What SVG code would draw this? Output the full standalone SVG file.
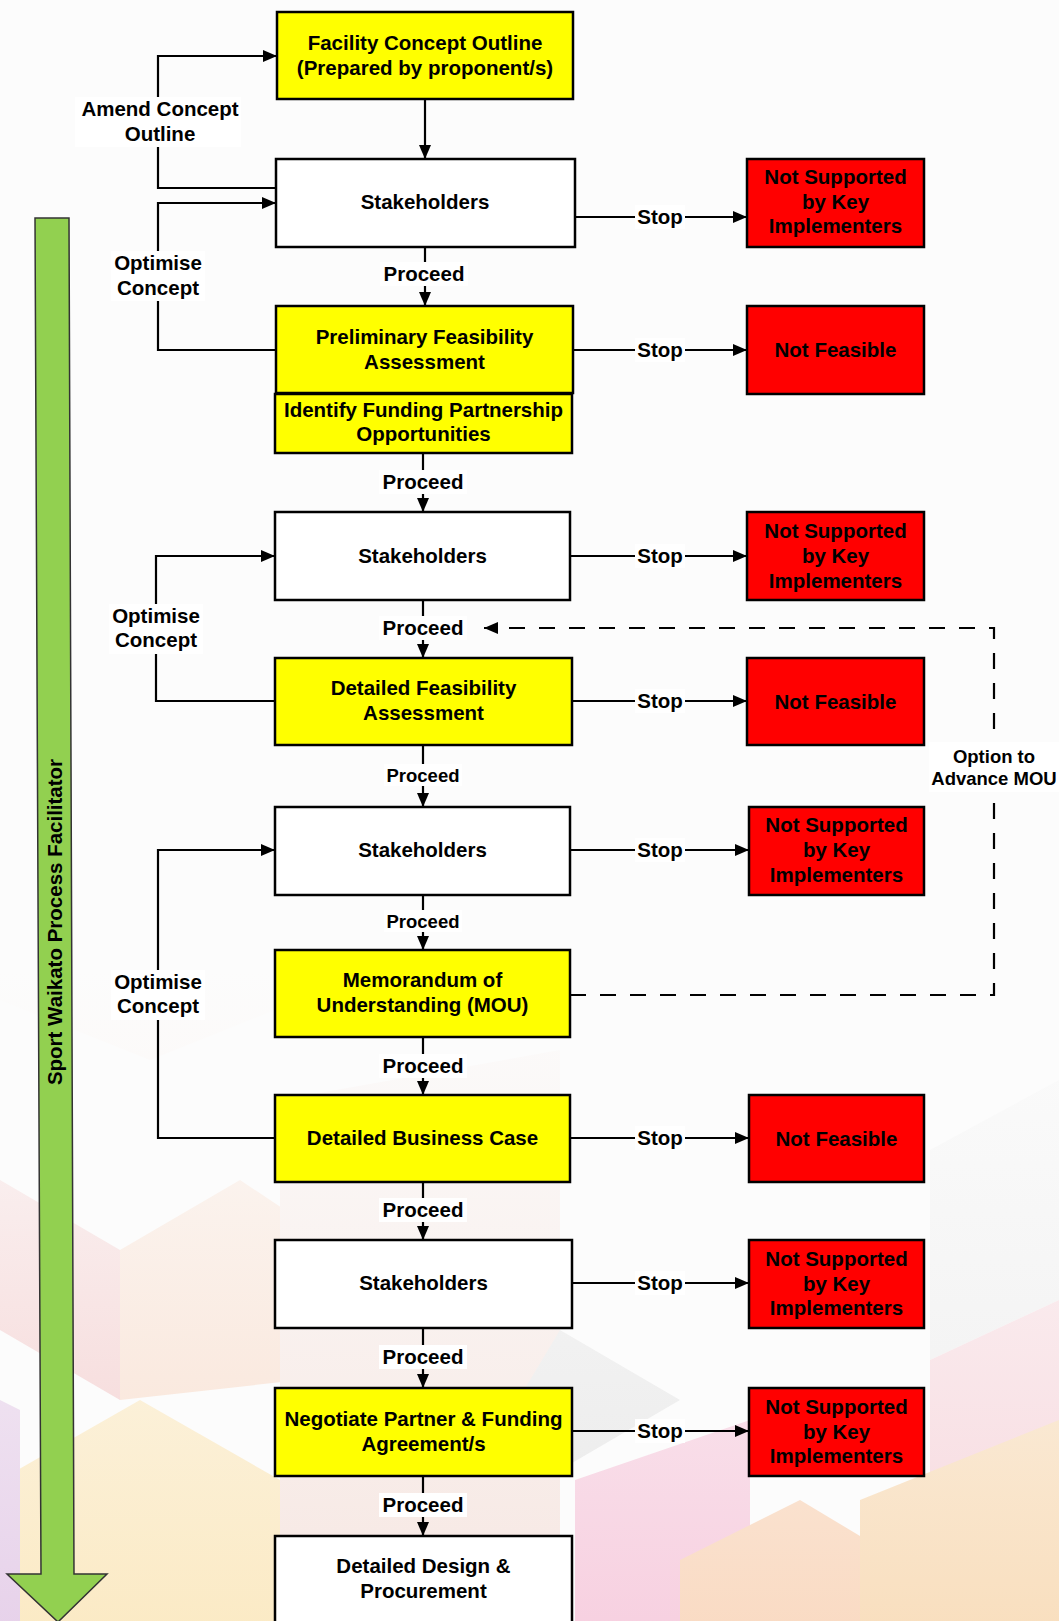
<svg xmlns="http://www.w3.org/2000/svg" width="1059" height="1621" viewBox="0 0 1059 1621">
<defs>
<style>
.box{stroke:#000;stroke-width:2.5}
.y{fill:#FFFF00}.w{fill:#FFFFFF}.r{fill:#FF0000}
.t{font-family:"Liberation Sans",Arial,sans-serif;font-weight:bold;font-size:20.5px;text-anchor:middle;fill:#000}
.s{font-size:18.5px}
.ln{stroke:#000;stroke-width:2.2;fill:none}
.lbg{fill:#FFFFFF}
</style>
<marker id="arr" viewBox="0 0 14 12" refX="14" refY="6" markerWidth="14" markerHeight="12" markerUnits="userSpaceOnUse" orient="auto">
<path d="M0,0 L14,6 L0,12 z" fill="#000" stroke="none"/>
</marker>
<linearGradient id="fade" x1="0" y1="0" x2="0" y2="1">
<stop offset="0" stop-color="#fcfcfc" stop-opacity="1"/>
<stop offset="0.6" stop-color="#fcfcfc" stop-opacity="1"/>
<stop offset="0.8" stop-color="#fcfcfc" stop-opacity="0.6"/>
<stop offset="1" stop-color="#fcfcfc" stop-opacity="0.2"/>
</linearGradient>
</defs>

<g id="background">
<rect x="0" y="0" width="1059" height="1621" fill="#fcfcfc"/>
<polygon points="0,1180 120,1250 120,1400 0,1330" fill="#f2c4c4"/>
<polygon points="120,1250 240,1180 300,1220 300,1380 120,1400" fill="#f8d8c4"/>
<polygon points="0,1480 140,1400 280,1480 280,1621 0,1621" fill="#fbe6b8"/>
<polygon points="0,1400 20,1410 20,1621 0,1621" fill="#e2c8e6"/>
<polygon points="280,1100 560,1050 560,1621 280,1621" fill="#f5e2dc"/>
<polygon points="560,1330 680,1400 560,1470 500,1430" fill="#e4e4e4"/>
<polygon points="575,1480 750,1420 750,1621 575,1621" fill="#f6c6da"/>
<polygon points="680,1560 800,1500 900,1560 900,1621 680,1621" fill="#f9d3b6"/>
<polygon points="930,1150 1059,1080 1059,1300 930,1360" fill="#ebebeb"/>
<polygon points="930,1360 1059,1300 1059,1500 930,1560" fill="#f6cfd6"/>
<polygon points="860,1500 1059,1420 1059,1621 860,1621" fill="#f8d8b0"/>
<polygon points="0,700 150,640 300,700 300,1000 150,1060 0,1000" fill="#fbe9e0"/>
<rect x="0" y="0" width="1059" height="1621" fill="url(#fade)"/>
</g>

<g id="facilitator-arrow">
<polygon points="35,218 69,218 74,1574 107,1574 58,1622 7,1574 41,1574" fill="#92D050" stroke="#333" stroke-width="1.5"/>
<text class="t" transform="translate(55,922) rotate(-90)" x="0" y="7">Sport Waikato Process Facilitator</text>
</g>

<g id="connectors">
<path class="ln" d="M425,99 V159" marker-end="url(#arr)"/>
<path class="ln" d="M425,247 V306" marker-end="url(#arr)"/>
<path class="ln" d="M423,453 V512" marker-end="url(#arr)"/>
<path class="ln" d="M423,600 V658" marker-end="url(#arr)"/>
<path class="ln" d="M423,745 V807" marker-end="url(#arr)"/>
<path class="ln" d="M423,895 V950" marker-end="url(#arr)"/>
<path class="ln" d="M423,1037 V1095" marker-end="url(#arr)"/>
<path class="ln" d="M423,1182 V1240" marker-end="url(#arr)"/>
<path class="ln" d="M423,1328 V1388" marker-end="url(#arr)"/>
<path class="ln" d="M423,1476 V1536" marker-end="url(#arr)"/>

<path class="ln" d="M575,217 H747" marker-end="url(#arr)"/>
<path class="ln" d="M573,350 H747" marker-end="url(#arr)"/>
<path class="ln" d="M570,556 H747" marker-end="url(#arr)"/>
<path class="ln" d="M572,701 H747" marker-end="url(#arr)"/>
<path class="ln" d="M570,850 H749" marker-end="url(#arr)"/>
<path class="ln" d="M570,1138 H749" marker-end="url(#arr)"/>
<path class="ln" d="M572,1283 H749" marker-end="url(#arr)"/>
<path class="ln" d="M572,1431 H749" marker-end="url(#arr)"/>

<path class="ln" d="M278,188 H158 V56 H277" marker-end="url(#arr)"/>
<path class="ln" d="M276,350 H158 V203 H276" marker-end="url(#arr)"/>
<path class="ln" d="M275,701 H156 V556 H275" marker-end="url(#arr)"/>
<path class="ln" d="M275,1138 H158 V850 H275" marker-end="url(#arr)"/>

<path class="ln" d="M570,995 H994 V628 H484" stroke-width="2.5" stroke-dasharray="16,14" marker-end="url(#arr)"/>

<rect class="lbg" x="380" y="262" width="88" height="24"/><text class="t" x="424" y="281">Proceed</text>
<rect class="lbg" x="379" y="470" width="88" height="24"/><text class="t" x="423" y="489">Proceed</text>
<rect class="lbg" x="379" y="616" width="88" height="24"/><text class="t" x="423" y="635">Proceed</text>
<rect class="lbg" x="384" y="764" width="78" height="22"/><text class="t s" x="423" y="781.5">Proceed</text>
<rect class="lbg" x="384" y="910" width="78" height="22"/><text class="t s" x="423" y="927.5">Proceed</text>
<rect class="lbg" x="379" y="1054" width="88" height="24"/><text class="t" x="423" y="1073">Proceed</text>
<rect class="lbg" x="379" y="1198" width="88" height="24"/><text class="t" x="423" y="1217">Proceed</text>
<rect class="lbg" x="379" y="1345" width="88" height="24"/><text class="t" x="423" y="1364">Proceed</text>
<rect class="lbg" x="379" y="1493" width="88" height="24"/><text class="t" x="423" y="1512">Proceed</text>

<rect class="lbg" x="635" y="205" width="50" height="24"/><text class="t" x="660" y="224">Stop</text>
<rect class="lbg" x="635" y="338" width="50" height="24"/><text class="t" x="660" y="357">Stop</text>
<rect class="lbg" x="635" y="544" width="50" height="24"/><text class="t" x="660" y="563">Stop</text>
<rect class="lbg" x="635" y="689" width="50" height="24"/><text class="t" x="660" y="708">Stop</text>
<rect class="lbg" x="635" y="838" width="50" height="24"/><text class="t" x="660" y="857">Stop</text>
<rect class="lbg" x="635" y="1126" width="50" height="24"/><text class="t" x="660" y="1145">Stop</text>
<rect class="lbg" x="635" y="1271" width="50" height="24"/><text class="t" x="660" y="1290">Stop</text>
<rect class="lbg" x="635" y="1419" width="50" height="24"/><text class="t" x="660" y="1438">Stop</text>

<rect class="lbg" x="75" y="97" width="166" height="50"/>
<text class="t" x="160" y="116">Amend Concept</text><text class="t" x="160" y="141">Outline</text>
<rect class="lbg" x="111" y="251" width="94" height="50"/>
<text class="t" x="158" y="270">Optimise</text><text class="t" x="158" y="294.5">Concept</text>
<rect class="lbg" x="109" y="604" width="94" height="50"/>
<text class="t" x="156" y="623">Optimise</text><text class="t" x="156" y="647">Concept</text>
<rect class="lbg" x="111" y="970" width="94" height="50"/>
<text class="t" x="158" y="989">Optimise</text><text class="t" x="158" y="1013">Concept</text>

<rect class="lbg" x="929" y="742" width="130" height="50"/>
<text class="t s" x="994" y="762.5">Option to</text><text class="t s" x="994" y="784.5">Advance MOU</text>
</g>

<g id="facility-concept">
<rect class="box y" x="277" y="12" width="296" height="87"/>
<text class="t" x="425" y="50">Facility Concept Outline</text>
<text class="t" x="425" y="75">(Prepared by proponent/s)</text>
</g>
<g id="stakeholders-1">
<rect class="box w" x="276" y="159" width="299" height="88"/>
<text class="t" x="425" y="209">Stakeholders</text>
</g>
<g id="not-supported-1">
<rect class="box r" x="747" y="159" width="177" height="88"/>
<text class="t" x="835.5" y="184">Not Supported</text><text class="t" x="835.5" y="208.5">by Key</text><text class="t" x="835.5" y="233">Implementers</text>
</g>
<g id="preliminary-feasibility">
<rect class="box y" x="276" y="306" width="297" height="87"/>
<text class="t" x="424.5" y="344">Preliminary Feasibility</text><text class="t" x="424.5" y="369">Assessment</text>
</g>
<g id="identify-funding">
<rect class="box y" x="275" y="394" width="297" height="59"/>
<text class="t" x="423.5" y="416.5">Identify Funding Partnership</text><text class="t" x="423.5" y="441">Opportunities</text>
</g>
<g id="not-feasible-1">
<rect class="box r" x="747" y="306" width="177" height="88"/>
<text class="t" x="835.5" y="357">Not Feasible</text>
</g>
<g id="stakeholders-2">
<rect class="box w" x="275" y="512" width="295" height="88"/>
<text class="t" x="422.5" y="563">Stakeholders</text>
</g>
<g id="not-supported-2">
<rect class="box r" x="747" y="512" width="177" height="88"/>
<text class="t" x="835.5" y="537.5">Not Supported</text><text class="t" x="835.5" y="563">by Key</text><text class="t" x="835.5" y="588">Implementers</text>
</g>
<g id="detailed-feasibility">
<rect class="box y" x="275" y="658" width="297" height="87"/>
<text class="t" x="423.5" y="695">Detailed Feasibility</text><text class="t" x="423.5" y="719.5">Assessment</text>
</g>
<g id="not-feasible-2">
<rect class="box r" x="747" y="658" width="177" height="87"/>
<text class="t" x="835.5" y="708.5">Not Feasible</text>
</g>
<g id="stakeholders-3">
<rect class="box w" x="275" y="807" width="295" height="88"/>
<text class="t" x="422.5" y="857">Stakeholders</text>
</g>
<g id="not-supported-3">
<rect class="box r" x="749" y="807" width="175" height="88"/>
<text class="t" x="836.5" y="832">Not Supported</text><text class="t" x="836.5" y="857">by Key</text><text class="t" x="836.5" y="882">Implementers</text>
</g>
<g id="mou">
<rect class="box y" x="275" y="950" width="295" height="87"/>
<text class="t" x="422.5" y="987">Memorandum of</text><text class="t" x="422.5" y="1012">Understanding (MOU)</text>
</g>
<g id="business-case">
<rect class="box y" x="275" y="1095" width="295" height="87"/>
<text class="t" x="422.5" y="1145">Detailed Business Case</text>
</g>
<g id="not-feasible-3">
<rect class="box r" x="749" y="1095" width="175" height="87"/>
<text class="t" x="836.5" y="1145.5">Not Feasible</text>
</g>
<g id="stakeholders-4">
<rect class="box w" x="275" y="1240" width="297" height="88"/>
<text class="t" x="423.5" y="1290">Stakeholders</text>
</g>
<g id="not-supported-4">
<rect class="box r" x="749" y="1240" width="175" height="88"/>
<text class="t" x="836.5" y="1265.5">Not Supported</text><text class="t" x="836.5" y="1290.5">by Key</text><text class="t" x="836.5" y="1315">Implementers</text>
</g>
<g id="negotiate">
<rect class="box y" x="275" y="1388" width="297" height="88"/>
<text class="t" x="423.5" y="1426">Negotiate Partner &amp; Funding</text><text class="t" x="423.5" y="1451">Agreement/s</text>
</g>
<g id="not-supported-5">
<rect class="box r" x="749" y="1388" width="175" height="88"/>
<text class="t" x="836.5" y="1413.5">Not Supported</text><text class="t" x="836.5" y="1438.5">by Key</text><text class="t" x="836.5" y="1463">Implementers</text>
</g>
<g id="detailed-design">
<rect class="box w" x="275" y="1536" width="297" height="100"/>
<text class="t" x="423.5" y="1573">Detailed Design &amp;</text><text class="t" x="423.5" y="1598">Procurement</text>
</g>
</svg>
